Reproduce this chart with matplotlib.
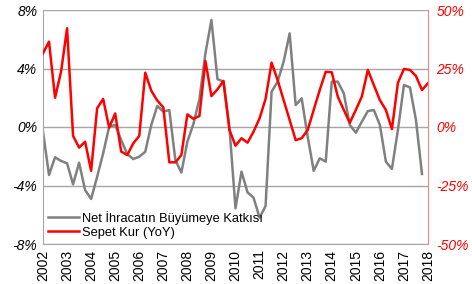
import numpy as np
import matplotlib
matplotlib.use("Agg")
import matplotlib.pyplot as plt

plt.rcParams['font.family'] = ['Liberation Sans', 'DejaVu Sans']

# quarterly data, 2002Q1 onwards
net_ihracat = [-0.32, -3.28, -2.07, -2.32, -2.48, -3.92, -2.44, -4.31, -4.92, -3.40,
               -1.80, 0.02, 0.14, -0.89, -1.85, -2.19, -2.03, -1.69, 0.14, 1.44,
               1.05, 1.16, -2.26, -3.12, -1.00, 0.20, 1.90, 5.04, 7.32, 3.28,
               3.10, -0.09, -5.56, -3.05, -4.47, -4.83, -6.20, -5.40, 2.42, 3.10,
               4.47, 6.40, 1.50, 1.96, -0.66, -3.00, -2.14, -2.37, 3.10, 3.10,
               2.30, 0.14, -0.39, 0.36, 1.09, 1.16, 0.14, -2.37, -2.87, -0.20,
               2.87, 2.71, 0.48, -3.21]
sepet_kur = [31.5, 36.5, 12.5, 23.6, 42.2, -3.8, -8.8, -6.3, -18.7, 8.0,
             12.0, -0.3, 5.8, -10.5, -12.0, -7.0, -3.8, 23.2, 15.5, 11.3,
             8.4, -15.1, -15.1, -12.0, 5.4, 3.5, 4.7, 28.2, 13.2, 16.1,
             19.7, -1.3, -8.0, -4.8, -6.7, -2.0, 3.7, 12.0, 27.5, 20.1,
             11.5, 3.0, -5.6, -4.8, -1.3, 7.3, 15.8, 23.6, 23.4, 13.0,
             7.3, 1.8, 7.3, 13.0, 24.4, 17.9, 11.5, 7.3, -0.9, 18.9,
             24.8, 24.4, 21.8, 15.8, 18.7]
years = list(range(2002, 2019))

x_gray = 2002 + np.arange(len(net_ihracat)) / 4
x_red = 2002 + np.arange(len(sepet_kur)) / 4

fig = plt.figure(figsize=(4.72, 2.84), dpi=100)
ax = fig.add_axes([43 / 472, 40 / 284, 385 / 472, 234 / 284])
ax2 = ax.twinx()

l1, = ax.plot(x_gray, net_ihracat, color='#808080', lw=1.8)
l2, = ax2.plot(x_red, sepet_kur, color='#ff0000', lw=1.8)

ax.set_xlim(2002, 2018)
ax.set_ylim(-8, 8)
ax2.set_ylim(-50, 50)
ax.set_yticks([-8, -4, 0, 4, 8])
ax.set_yticklabels(['-8%', '-4%', '0%', '4%', '8%'], fontstyle='italic', fontsize=10)
ax2.set_yticks([-50, -25, 0, 25, 50])
ax2.set_yticklabels(['-50%', '-25%', '0%', '25%', '50%'], fontstyle='italic',
                    fontsize=10, color='#ff0000')
ax.set_xticks(years)
ax.set_xticklabels([str(y) for y in years], rotation=90, fontsize=10)
ax.grid(axis='y', color='#a6a6a6', lw=1)
ax.tick_params(length=0, pad=4)
ax2.tick_params(length=0, pad=6)

for s in ['left', 'bottom', 'top']:
    ax.spines[s].set_color('#a6a6a6')
    ax2.spines[s].set_visible(False)
ax.spines['top'].set_visible(False)
ax.spines['right'].set_visible(False)
ax2.spines['right'].set_color('#ff8080')
ax2.spines['left'].set_visible(False)

leg = ax.legend([l1, l2], ['Net İhracatın Büyümeye Katkısı', 'Sepet Kur (YoY)'],
                loc='lower left', bbox_to_anchor=(0.0, 0.0), frameon=False,
                fontsize=9.3, handlelength=2.4, handletextpad=0.25,
                labelspacing=0.15, borderaxespad=0.1, borderpad=0.3)

fig.savefig('out.png', dpi=100)
